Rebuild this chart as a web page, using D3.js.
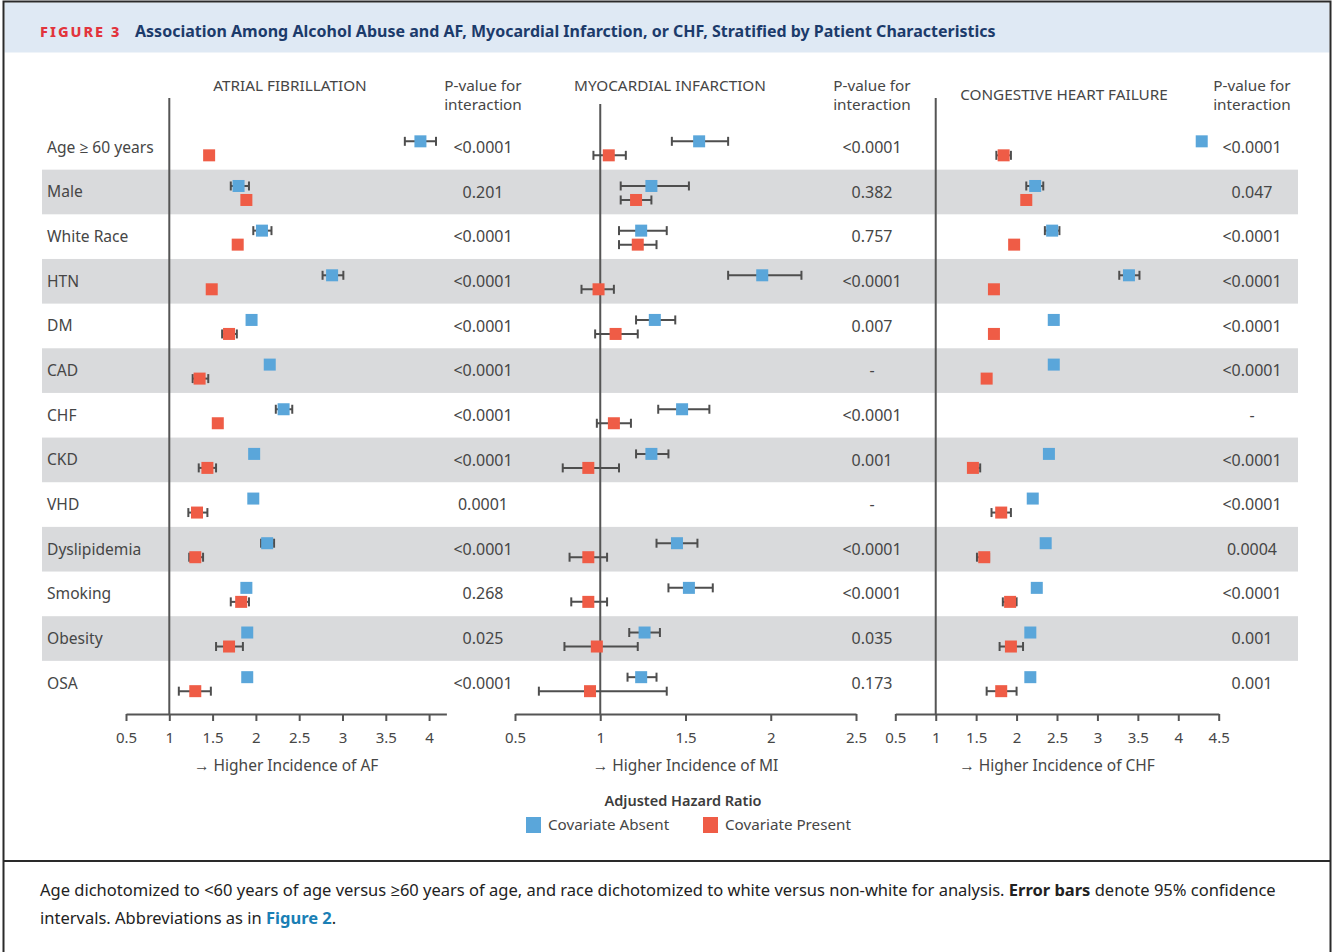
<!DOCTYPE html>
<html>
<head>
<meta charset="utf-8">
<script src="https://cdn.jsdelivr.net/npm/d3@7"></script>
<style>
  html, body { margin: 0; padding: 0; background: #fff; }
  svg { display: block; }
  text { font-family: "Noto Sans", "Open Sans", sans-serif; }
</style>
</head>
<body>
<svg id="fig" width="1336" height="952"></svg>
<script>
// Stratified characteristics (rows, top to bottom)
const categories = ["Age \u2265 60 years", "Male", "White Race", "HTN", "DM", "CAD", "CHF",
  "CKD", "VHD", "Dyslipidemia", "Smoking", "Obesity", "OSA"];

// Adjusted hazard ratios as [HR, lower 95% CI, upper 95% CI]; null = not estimated
const afAbsent = [[3.90,3.72,4.08],[1.80,1.71,1.92],[2.07,1.97,2.18],[2.88,2.77,3.01],[1.95,1.91,1.99],
  [2.16,2.12,2.20],[2.32,2.23,2.42],[1.98,1.94,2.02],[1.97,1.93,2.01],[2.13,2.06,2.21],
  [1.89,1.85,1.93],[1.90,1.86,1.94],[1.90,1.86,1.94]];
const afPresent = [[1.46,1.42,1.50],[1.89,1.85,1.93],[1.79,1.75,1.83],[1.49,1.45,1.53],[1.69,1.61,1.78],
  [1.35,1.27,1.45],[1.56,1.52,1.60],[1.44,1.34,1.54],[1.32,1.22,1.44],[1.30,1.23,1.39],
  [1.83,1.71,1.92],[1.69,1.54,1.85],[1.30,1.11,1.48]];

const miAbsent = [[1.58,1.42,1.75],[1.30,1.12,1.52],[1.24,1.11,1.39],[1.95,1.75,2.18],[1.32,1.21,1.44],
  null,[1.48,1.34,1.64],[1.30,1.21,1.40],null,[1.45,1.33,1.57],
  [1.52,1.40,1.66],[1.26,1.17,1.35],[1.24,1.16,1.33]];
const miPresent = [[1.05,0.96,1.15],[1.21,1.12,1.30],[1.22,1.11,1.33],[0.99,0.89,1.08],[1.09,0.97,1.22],
  null,[1.08,0.98,1.18],[0.93,0.78,1.11],null,[0.93,0.82,1.04],
  [0.93,0.83,1.04],[0.98,0.79,1.22],[0.94,0.64,1.39]];

const chfAbsent = [[4.29,4.25,4.33],[2.23,2.12,2.33],[2.44,2.35,2.53],[3.39,3.27,3.52],[2.46,2.42,2.50],
  [2.46,2.42,2.50],null,[2.40,2.36,2.44],[2.20,2.16,2.24],[2.36,2.32,2.40],
  [2.25,2.21,2.29],[2.17,2.13,2.21],[2.17,2.13,2.21]];
const chfPresent = [[1.84,1.75,1.93],[2.12,2.08,2.16],[1.97,1.93,2.01],[1.72,1.68,1.76],[1.72,1.68,1.76],
  [1.63,1.59,1.67],null,[1.46,1.40,1.55],[1.81,1.69,1.93],[1.60,1.51,1.66],
  [1.92,1.83,2.00],[1.93,1.79,2.08],[1.81,1.63,2.00]];

// P-values for interaction
const afP  = ["<0.0001","0.201","<0.0001","<0.0001","<0.0001","<0.0001","<0.0001","<0.0001","0.0001","<0.0001","0.268","0.025","<0.0001"];
const miP  = ["<0.0001","0.382","0.757","<0.0001","0.007","-","<0.0001","0.001","-","<0.0001","<0.0001","0.035","0.173"];
const chfP = ["<0.0001","0.047","<0.0001","<0.0001","<0.0001","<0.0001","-","<0.0001","<0.0001","0.0004","<0.0001","0.001","0.001"];

// Axis ticks
const afTicks  = [0.5,1,1.5,2,2.5,3,3.5,4];
const miTicks  = [0.5,1,1.5,2,2.5];
const chfTicks = [0.5,1,1.5,2,2.5,3,3.5,4,4.5];

const seriesNames = ["Covariate Absent", "Covariate Present"];

// ---------- styling ----------
const C = {
  frame: "#2a2a2a", band: "#dfe9f4", fig: "#e2343c", title: "#1c3b6b",
  stripe: "#d9dadc", text: "#464646", axis: "#555", err: "#4e4e4e",
  absent: "#5aa6da", present: "#ef5c46", link: "#1a7fb5"
};

const svg = d3.select("#fig");

// outer frame and header band
svg.append("rect").attr("x", 4.5).attr("y", 2.5).attr("width", 1325).attr("height", 50).attr("fill", C.band);
svg.append("rect").attr("x", 3.5).attr("y", 1.5).attr("width", 1327).attr("height", 1000)
  .attr("fill", "none").attr("stroke", C.frame).attr("stroke-width", 2);
svg.append("line").attr("x1", 3.5).attr("x2", 1330.5).attr("y1", 861).attr("y2", 861)
  .attr("stroke", C.frame).attr("stroke-width", 2);

const title = svg.append("text").attr("x", 40).attr("y", 37);
title.append("tspan").attr("font-size", 14.5).attr("font-weight", 800).attr("letter-spacing", 2)
  .attr("fill", C.fig).text("FIGURE 3");
title.append("tspan").attr("x", 135).attr("font-size", 16).attr("font-weight", 700)
  .attr("fill", C.title)
  .text("Association Among Alcohol Abuse and AF, Myocardial Infarction, or CHF, Stratified by Patient Characteristics");

// ---------- rows ----------
const y = d3.scaleBand().domain(categories).range([125, 705.5]).padding(0);
const rowMid = c => y(c) + y.bandwidth() / 2;

svg.append("g").selectAll("rect")
  .data(categories.filter((c, i) => i % 2 === 1))
  .join("rect")
  .attr("x", 42).attr("width", 1256)
  .attr("y", c => y(c)).attr("height", y.bandwidth())
  .attr("fill", C.stripe);

svg.append("g").selectAll("text")
  .data(categories)
  .join("text")
  .attr("x", 47).attr("y", rowMid).attr("dy", "0.35em")
  .attr("font-size", 15.6).attr("fill", C.text)
  .text(d => d);

// ---------- panels ----------
const panels = [
  { name: "ATRIAL FIBRILLATION", short: "AF", domain: [0.5, 4.2], range: [126, 446.4], ticks: afTicks,
    absent: afAbsent, present: afPresent, p: afP, pX: 483, refTop: 98, headX: 290, headY: 86 },
  { name: "MYOCARDIAL INFARCTION", short: "MI", domain: [0.5, 2.5], range: [515, 856], ticks: miTicks,
    absent: miAbsent, present: miPresent, p: miP, pX: 872, refTop: 104, headX: 670, headY: 86 },
  { name: "CONGESTIVE HEART FAILURE", short: "CHF", domain: [0.5, 4.5], range: [895.3, 1218.7], ticks: chfTicks,
    absent: chfAbsent, present: chfPresent, p: chfP, pX: 1252, refTop: 98, headX: 1064, headY: 95 }
];

const axisY = 714;
const box = 12;           // marker size
const offAbsent = -6, offPresent = 8;

panels.forEach(P => {
  const x = d3.scaleLinear().domain(P.domain).range(P.range);
  const g = svg.append("g");

  // column headings
  g.append("text").attr("x", P.headX)
    .attr("y", P.headY).attr("dy", "0.35em").attr("text-anchor", "middle")
    .attr("font-size", 15.3).attr("fill", C.text).text(P.name);
  const ph = g.append("text").attr("text-anchor", "middle").attr("font-size", 15.3).attr("fill", C.text);
  ph.append("tspan").attr("x", P.pX).attr("y", 86).attr("dy", "0.35em").text("P-value for");
  ph.append("tspan").attr("x", P.pX).attr("y", 105).attr("dy", "0.35em").text("interaction");

  // reference line at HR = 1
  g.append("line").attr("x1", x(1)).attr("x2", x(1)).attr("y1", P.refTop).attr("y2", axisY)
    .attr("stroke", C.axis).attr("stroke-width", 2);

  // x axis
  const ax = g.append("g").attr("transform", `translate(0,${axisY})`)
    .call(d3.axisBottom(x).tickValues(P.ticks).tickSize(7).tickSizeOuter(0).tickPadding(11)
      .tickFormat(d => String(d)));
  ax.select(".domain").attr("stroke", C.axis).attr("stroke-width", 2);
  ax.selectAll(".tick line").attr("stroke", C.axis).attr("stroke-width", 2);
  ax.selectAll(".tick text").attr("font-size", 15).attr("fill", C.text)
    .attr("font-family", '"Noto Sans", sans-serif');

  g.append("text").attr("x", (P.range[0] + P.range[1]) / 2).attr("y", 766).attr("dy", "0.35em")
    .attr("text-anchor", "middle").attr("font-size", 15.5).attr("fill", C.text)
    .text("\u2192 Higher Incidence of " + P.short);

  // p-values
  g.append("g").selectAll("text").data(P.p).join("text")
    .attr("x", P.pX).attr("y", (d, i) => rowMid(categories[i])).attr("dy", "0.35em")
    .attr("text-anchor", "middle").attr("font-size", 16).attr("fill", C.text)
    .text(d => d);

  // estimates with 95% CI
  [[P.absent, offAbsent, C.absent], [P.present, offPresent, C.present]].forEach(([vals, off, col]) => {
    const pts = vals.map((v, i) => v ? { cat: categories[i], hr: v[0], lo: v[1], hi: v[2] } : null)
      .filter(Boolean);
    const eg = g.append("g").selectAll("g").data(pts).join("g")
      .attr("transform", d => `translate(0,${rowMid(d.cat) + off})`);
    eg.append("line").attr("x1", d => x(d.lo)).attr("x2", d => x(d.hi))
      .attr("stroke", C.err).attr("stroke-width", 2);
    eg.append("line").attr("x1", d => x(d.lo)).attr("x2", d => x(d.lo)).attr("y1", -4.5).attr("y2", 4.5)
      .attr("stroke", C.err).attr("stroke-width", 2);
    eg.append("line").attr("x1", d => x(d.hi)).attr("x2", d => x(d.hi)).attr("y1", -4.5).attr("y2", 4.5)
      .attr("stroke", C.err).attr("stroke-width", 2);
    eg.append("rect").attr("x", d => x(d.hr) - box / 2).attr("y", -box / 2)
      .attr("width", box).attr("height", box).attr("fill", col);
  });
});

// ---------- legend ----------
svg.append("text").attr("x", 683).attr("y", 801).attr("dy", "0.35em").attr("text-anchor", "middle")
  .attr("font-size", 14.5).attr("font-weight", 600).attr("fill", "#3c3c3c").text("Adjusted Hazard Ratio");
const legendX = d3.scaleOrdinal().domain(seriesNames).range([526, 703]);
const legendColor = d3.scaleOrdinal().domain(seriesNames).range([C.absent, C.present]);
const lg = svg.append("g").selectAll("g").data(seriesNames).join("g")
  .attr("transform", d => `translate(${legendX(d)},825)`);
lg.append("rect").attr("x", 0).attr("y", -8).attr("width", 15).attr("height", 16).attr("fill", d => legendColor(d));
lg.append("text").attr("x", 22).attr("dy", "0.35em").attr("font-size", 15.2).attr("fill", C.text).text(d => d);

// ---------- footnote ----------
const fn1 = svg.append("text").attr("x", 40).attr("y", 890).attr("dy", "0.35em").attr("font-size", 16.5).attr("fill", "#222");
fn1.append("tspan").text("Age dichotomized to <60 years of age versus \u226560 years of age, and race dichotomized to white versus non-white for analysis. ");
fn1.append("tspan").attr("font-weight", 700).text("Error bars");
fn1.append("tspan").text(" denote 95% confidence");
const fn2 = svg.append("text").attr("x", 40).attr("y", 918).attr("dy", "0.35em").attr("font-size", 16.5).attr("fill", "#222");
fn2.append("tspan").text("intervals. Abbreviations as in ");
fn2.append("tspan").attr("font-weight", 700).attr("fill", C.link).text("Figure 2");
fn2.append("tspan").text(".");
</script>
</body>
</html>
